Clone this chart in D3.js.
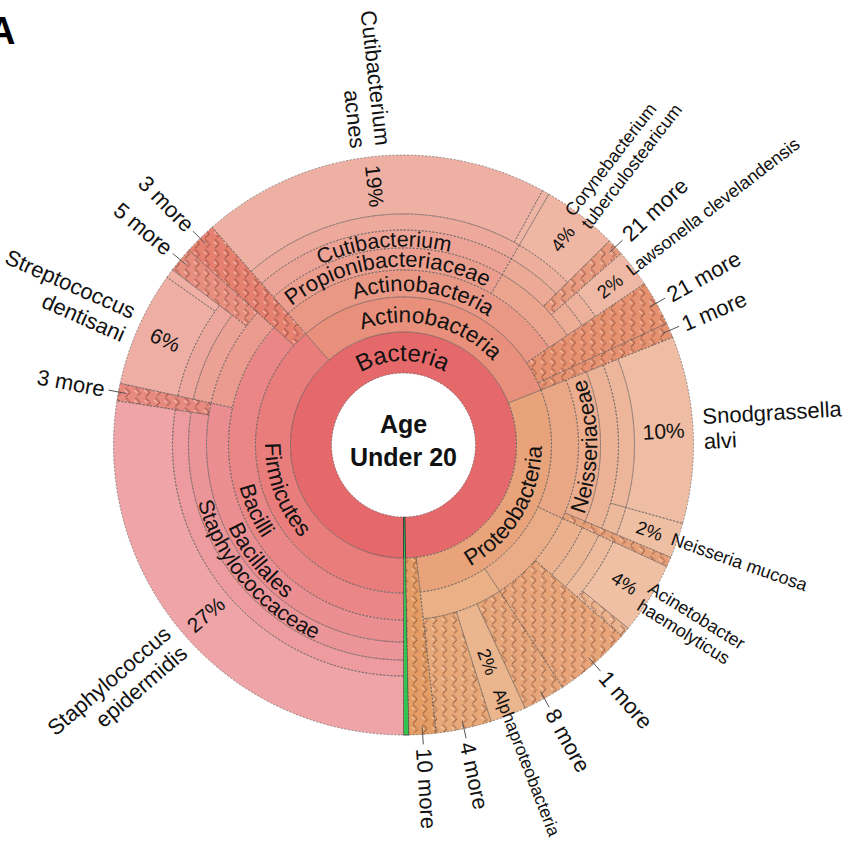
<!DOCTYPE html>
<html>
<head>
<meta charset="utf-8">
<script src="https://cdn.jsdelivr.net/npm/d3@7"></script>
<style>
  html, body { margin: 0; padding: 0; background: #fff; }
  svg { display: block; font-family: "Liberation Sans", Arial, Helvetica, sans-serif; }
</style>
</head>
<body>
<svg id="chart" width="846" height="843"></svg>
<script>
// ---------------- DATA ----------------
// rows: [id, parentId, label, value (% of reads, leaves only), isCollapsed("N more")]
const rootRows = [
  ["root", null, "Age\nUnder 20", 0, 0],
  ["Bacteria", "root", "Bacteria", 0, 0],
  ["Unassigned", "root", "", 0.3, 0]
];
const firmicutesRows = [
  ["Firmicutes", "Bacteria", "Firmicutes", 0, 0],
  ["Bacilli", "Firmicutes", "Bacilli", 0, 0],
  ["Bacillales", "Bacilli", "Bacillales", 0, 0],
  ["Staphylococcaceae", "Bacillales", "Staphylococcaceae", 0, 0],
  ["Staphylococcus", "Staphylococcaceae", "", 0, 0],
  ["Staphylococcus epidermidis", "Staphylococcus", "Staphylococcus\nepidermidis", 27.4, 0],
  ["Bacillales (3 more)", "Bacillales", "3 more", 0.97, 1],
  ["Lactobacillales", "Bacilli", "", 0, 0],
  ["Streptococcaceae", "Lactobacillales", "", 0, 0],
  ["Streptococcus", "Streptococcaceae", "", 0, 0],
  ["Streptococcus dentisani", "Streptococcus", "Streptococcus\ndentisani", 6.4, 0],
  ["Streptococcus sp.", "Streptococcus", "", 0.5, 0],
  ["Lactobacillales (5 more)", "Lactobacillales", "5 more", 1.4, 1],
  ["Firmicutes (3 more)", "Firmicutes", "3 more", 1.8, 1]
];
const actinobacteriaRows = [
  ["Actinobacteria", "Bacteria", "Actinobacteria", 0, 0],
  ["Actinobacteria (class)", "Actinobacteria", "Actinobacteria", 0, 0],
  ["Propionibacteriaceae", "Actinobacteria (class)", "Propionibacteriaceae", 0, 0],
  ["Cutibacterium", "Propionibacteriaceae", "Cutibacterium", 0, 0],
  ["Cutibacterium (genus)", "Cutibacterium", "", 0, 0],
  ["Cutibacterium acnes", "Cutibacterium (genus)", "Cutibacterium\nacnes", 19.4, 0],
  ["Cutibacterium sp.", "Cutibacterium (genus)", "", 0.4, 0],
  ["Corynebacteriales", "Actinobacteria (class)", "", 0, 0],
  ["Corynebacteriaceae", "Corynebacteriales", "", 0, 0],
  ["Corynebacterium", "Corynebacteriaceae", "", 0, 0],
  ["Corynebacterium tuberculostearicum", "Corynebacterium", "Corynebacterium\ntuberculostearicum", 4.2, 0],
  ["Corynebacteriales (21 more)", "Corynebacteriales", "21 more", 0.94, 1],
  ["Lawsonellaceae", "Corynebacteriales", "", 0, 0],
  ["Lawsonella", "Lawsonellaceae", "", 0, 0],
  ["Lawsonella clevelandensis", "Lawsonella", "Lawsonella clevelandensis", 2.1, 0],
  ["Actinobacteria (21 more)", "Actinobacteria", "21 more", 2.5, 1],
  ["Actinobacteria (1 more)", "Actinobacteria", "1 more", 0.83, 1]
];
const proteobacteriaRows = [
  ["Proteobacteria", "Bacteria", "Proteobacteria", 0, 0],
  ["Betaproteobacteria", "Proteobacteria", "", 0, 0],
  ["Neisseriales", "Betaproteobacteria", "Neisseriaceae", 0, 0],
  ["Neisseriaceae", "Neisseriales", "", 0, 0],
  ["Snodgrassella", "Neisseriaceae", "", 0, 0],
  ["Snodgrassella alvi", "Snodgrassella", "Snodgrassella\nalvi", 10.4, 0],
  ["Neisseria", "Neisseriaceae", "", 0, 0],
  ["Neisseria mucosa", "Neisseria", "Neisseria mucosa", 1.97, 0],
  ["Betaproteobacteria (more)", "Betaproteobacteria", "", 0.55, 1],
  ["Gammaproteobacteria", "Proteobacteria", "", 0, 0],
  ["Pseudomonadales", "Gammaproteobacteria", "", 0, 0],
  ["Moraxellaceae", "Pseudomonadales", "", 0, 0],
  ["Acinetobacter", "Moraxellaceae", "", 0, 0],
  ["Acinetobacter haemolyticus", "Acinetobacter", "Acinetobacter\nhaemolyticus", 4.0, 0],
  ["Acinetobacter (more)", "Acinetobacter", "", 0.55, 1],
  ["Gammaproteobacteria (1 more)", "Gammaproteobacteria", "1 more", 4.3, 1],
  ["Alphaproteobacteria", "Proteobacteria", "", 0, 0],
  ["Alphaproteobacteria (8 more)", "Alphaproteobacteria", "8 more", 2.36, 1],
  ["Alphaproteobacteria (unclassified)", "Alphaproteobacteria", "Alphaproteobacteria", 2.0, 0],
  ["Alphaproteobacteria (4 more)", "Alphaproteobacteria", "4 more", 3.08, 1],
  ["Bacteria (10 more)", "Bacteria", "10 more", 1.5, 1]
];

// ---------------- LAYOUT ----------------
const cx = 403.5, cy = 445;
const ringInner = [0, 72, 113, 148, 175, 197, 215, 231]; // inner radius of each depth
const outerR = 290;
const lightByDepth = [1, 0.655, 0.695, 0.72, 0.74, 0.755, 0.77, 0.79];
const hueScale = d3.scaleLinear().domain([180, 230, 290, 360, 450, 540]).range([352, 358, 368, 370, 380, 387]);

const rows = [...rootRows, ...firmicutesRows, ...actinobacteriaRows, ...proteobacteriaRows]
  .map(r => ({ id: r[0], parent: r[1], label: r[2], value: r[3], more: r[4] }));

const root = d3.stratify().id(d => d.id).parentId(d => d.parent)(rows);
root.sum(d => d.value);
d3.partition().size([2 * Math.PI, 1])(root);

const nodes = root.descendants().filter(d => d.depth > 0);
nodes.forEach(d => {
  d.a0 = Math.PI + d.x0;
  d.a1 = Math.PI + d.x1;
  d.r0 = ringInner[d.depth];
  d.r1 = d.children ? ringInner[d.depth + 1] : outerR;
  d.midDeg = ((d.a0 + d.a1) / 2) * 180 / Math.PI;
  d.m = ((d.midDeg % 360) + 360) % 360;
});

const svg = d3.select("#chart");
const defs = svg.append("defs");
const pat = defs.append("pattern").attr("id", "moreHatch")
  .attr("patternUnits", "userSpaceOnUse").attr("width", 14).attr("height", 14)
  .attr("patternTransform", "rotate(45)");
pat.append("path").attr("d", "M1,2h6 M7.5,2v6 M8,9h5.5 M1,8.5v5")
  .attr("stroke", "#5e2a20").attr("stroke-opacity", 0.6).attr("stroke-width", 0.9).attr("fill", "none");
pat.append("path").attr("d", "M2,4.5h3.5 M9.5,11.5h3")
  .attr("stroke", "#fff").attr("stroke-opacity", 0.55).attr("stroke-width", 0.9).attr("fill", "none");

function nodeColor(d) {
  if (d.data.id === "Unassigned") return "#33c552";
  const h = d.depth === 1 ? 359 : hueScale(d.midDeg) % 360;
  const L = lightByDepth[d.depth] - (d.data.more ? 0.05 : 0);
  return d3.hsl(h, 0.7, L).toString();
}

const arc = d3.arc()
  .startAngle(d => d.a0).endAngle(d => d.a1)
  .innerRadius(d => d.r0).outerRadius(d => d.r1);

const g = svg.append("g").attr("transform", `translate(${cx},${cy})`);

g.selectAll("path.node").data(nodes).join("path")
  .attr("class", "node")
  .attr("d", arc)
  .attr("fill", nodeColor)
  .attr("stroke", d => d.data.id === "Unassigned" ? "#333" : "none")
  .attr("stroke-width", 0.9);

g.selectAll("path.hatch").data(nodes.filter(d => d.data.more)).join("path")
  .attr("class", "hatch")
  .attr("d", arc)
  .attr("fill", "url(#moreHatch)");

g.selectAll("path.border").data(nodes.filter(d => d.data.id !== "Unassigned")).join("path")
  .attr("class", "border")
  .attr("d", arc)
  .attr("fill", "none")
  .attr("stroke", "#4a4a4a")
  .attr("stroke-width", 0.6)
  .attr("stroke-opacity", 0.85)
  .attr("stroke-dasharray", "2.2 1.4");

// ---------------- INNER (curved) LABELS ----------------
const rad = deg => deg * Math.PI / 180;
const pt = (r, deg) => [r * Math.sin(rad(deg)), -r * Math.cos(rad(deg))];
const innerFont = [0, 24, 22.5, 22, 22, 21.5];
const inner = nodes.filter(d => d.children && d.data.label);
inner.forEach((d, i) => {
  const fs = innerFont[d.depth];
  const rm = (d.r0 + d.r1) / 2;
  const ccw = d.m > 80 && d.m < 280;
  let p;
  if (!ccw) {
    const rp = rm - 0.35 * fs;
    const s = pt(rp, d.midDeg - 89), e = pt(rp, d.midDeg + 89);
    p = `M${s[0]},${s[1]} A${rp},${rp} 0 0 1 ${e[0]},${e[1]}`;
  } else {
    const rp = rm + 0.35 * fs;
    const s = pt(rp, d.midDeg + 89), e = pt(rp, d.midDeg - 89);
    p = `M${s[0]},${s[1]} A${rp},${rp} 0 0 0 ${e[0]},${e[1]}`;
  }
  defs.append("path").attr("id", "lp" + i).attr("d", p).attr("transform", `translate(${cx},${cy})`);
  svg.append("text")
    .attr("font-size", fs).attr("fill", "#111")
    .append("textPath").attr("href", "#lp" + i)
    .attr("startOffset", "50%").attr("text-anchor", "middle")
    .text(d.data.label);
});

// ---------------- OUTER LEAF LABELS ----------------
const leaves = nodes.filter(d => !d.children && d.data.label);
leaves.forEach(d => {
  const right = d.m < 180;
  const rot = right ? d.m - 90 : d.m + 90;
  const more = d.data.more;
  const big = more || d.data.value >= 5;
  const fs = big ? 22 : (d.r0 < 200 ? 17.5 : 18);
  // big labels start just outside the rim; small ones start a little inside it
  const r = more ? 304 : big ? 300 : (d.r0 < 200 ? 262 : 284);
  if (more) {
    const a = pt(282, d.midDeg), b = pt(300, d.midDeg);
    g.append("line").attr("x1", a[0]).attr("y1", a[1]).attr("x2", b[0]).attr("y2", b[1])
      .attr("stroke", "#555").attr("stroke-width", 1);
  }
  const lines = d.data.label.split("\n");
  const t = g.append("text")
    .attr("transform", `rotate(${rot}) translate(${right ? r : -r},0)`)
    .attr("text-anchor", right ? "start" : "end")
    .attr("font-size", fs).attr("fill", "#111");
  lines.forEach((ln, i) => {
    t.append("tspan").attr("x", 0)
      .attr("y", (i - (lines.length - 1) / 2) * 1.15 * fs)
      .attr("dominant-baseline", "central")
      .text(ln);
  });
  // percentage inside the wedge
  if (!more && d.data.value >= 1.5) {
    const rp = (d.r0 + outerR) / 2;
    g.append("text")
      .attr("transform", `rotate(${rot}) translate(${right ? rp : -rp},0)`)
      .attr("text-anchor", "middle").attr("dominant-baseline", "central")
      .attr("font-size", d.data.value >= 5 ? 21 : 18.5).attr("fill", "#111")
      .text(Math.round(d.data.value) + "%");
  }
});

// ---------------- CENTER ----------------
const centerLines = root.data.label.split("\n");
g.selectAll("text.center").data(centerLines).join("text")
  .attr("class", "center")
  .attr("x", 0).attr("y", (d, i) => i === 0 ? -12 : 21)
  .attr("text-anchor", "middle").attr("font-weight", "bold")
  .attr("font-size", 25).attr("fill", "#111")
  .text(d => d);

// panel letter (partly cut off at the left edge, as in the source figure)
svg.append("text").attr("x", -12).attr("y", 44).attr("font-size", 38)
  .attr("font-weight", "bold").attr("fill", "#000").text("A");
</script>
</body>
</html>
